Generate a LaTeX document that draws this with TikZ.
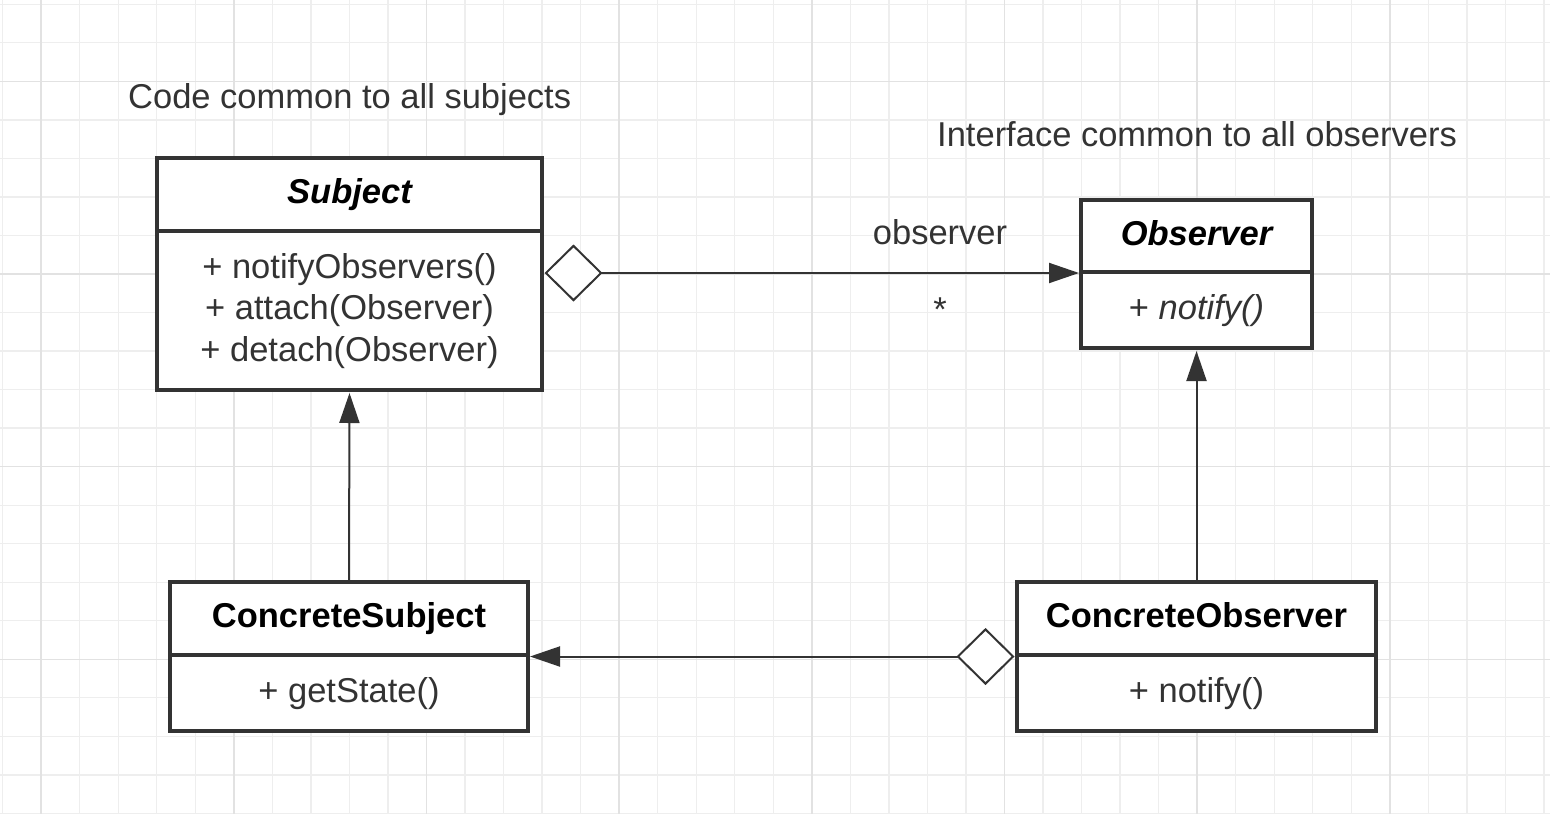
\documentclass[tikz,border=0pt]{standalone}
\usepackage{fontspec}
\setmainfont{Liberation Sans}
\usetikzlibrary{arrows.meta,positioning}
\definecolor{ink}{HTML}{333333}
\definecolor{gridminor}{HTML}{EEEEEE}
\definecolor{gridmajor}{HTML}{E2E2E2}
\tikzset{
  txt/.style={font=\fontsize{34.5}{41.5}\selectfont, text=ink, inner sep=0pt},
  classbox/.style={draw=ink, line width=3.5pt, fill=white, inner sep=0pt, outer sep=0pt,
    text height=25pt, text depth=7pt, align=center},
  classhead/.style={classbox, font=\fontsize{34.5}{41.5}\selectfont\bfseries, text=black},
  classbody/.style={classbox, font=\fontsize{34.5}{41.5}\selectfont, text=ink},
  conn/.style={draw=ink, line width=2pt},
  genarrow/.style={conn, -{Triangle[length=30pt,width=20pt,fill=ink]}},
  aggarrow/.style={conn, {Diamond[open,length=58pt,width=57pt,fill=white,line width=2pt]}-{Triangle[length=30pt,width=20pt,fill=ink]}},
}
\begin{document}
\begin{tikzpicture}[x=1pt,y=-1pt]
\useasboundingbox[fill=white] (0,0) rectangle (1550,814);
% grid
\foreach \i in {0,...,40} {\draw[gridminor, line width=1.3pt] ({2.7+38.53*\i},0) -- ({2.7+38.53*\i},814);}
\foreach \j in {0,...,21} {\draw[gridminor, line width=1.3pt] (0,{4.3+38.53*\j}) -- (1550,{4.3+38.53*\j});}
\foreach \i in {1,6,...,36} {\draw[gridmajor, line width=1.6pt] ({2.7+38.53*\i},0) -- ({2.7+38.53*\i},814);}
\foreach \j in {2,7,12,17} {\draw[gridmajor, line width=1.6pt] (0,{4.3+38.53*\j}) -- (1550,{4.3+38.53*\j});}

% notes
\node[txt, anchor=base west] (note1) at (128,108) {Code common to all subjects};
\node[txt, anchor=base west] (note2) at (937,146) {Interface common to all observers};

% Subject
\node[classhead, minimum width=385pt, minimum height=73pt] (subjH) at (349.5,194.5) {\itshape Subject};
\node[classbody, minimum width=385pt, minimum height=159pt, text height=108pt, text depth=7pt, anchor=north] (subjB) at (subjH.south)
  {+ notifyObservers()\\+ attach(Observer)\\+ detach(Observer)};

% Observer
\node[classhead, minimum width=231pt, minimum height=72pt] (obsH) at (1196.5,236) {\itshape Observer};
\node[classbody, minimum width=231pt, minimum height=76pt, anchor=north] (obsB) at (obsH.south) {+ \textit{notify()}};

% ConcreteSubject
\node[classhead, minimum width=358pt, minimum height=73pt] (csH) at (349,618.5) {ConcreteSubject};
\node[classbody, minimum width=358pt, minimum height=76pt, anchor=north] (csB) at (csH.south) {+ getState()};

% ConcreteObserver
\node[classhead, minimum width=359pt, minimum height=73pt] (coH) at (1196.5,618.5) {ConcreteObserver};
\node[classbody, minimum width=359pt, minimum height=76pt, anchor=north] (coB) at (coH.south) {+ notify()};

% connectors
\coordinate (aggstart) at (subjB.east |- obsH.south);
\draw[aggarrow] ([xshift=2.5pt,yshift=-1pt]aggstart) -- ([xshift=-2pt,yshift=-1pt]obsH.south west);
\draw[aggarrow] ([xshift=-2.5pt,yshift=-1.5pt]coH.south west) -- ([xshift=2pt,yshift=-1.5pt]csH.south east);
\draw[genarrow] ([yshift=1.5pt]coH.north) -- ([yshift=-3pt]obsB.south);
\draw[genarrow] ([yshift=1.5pt]csH.north) -- ([yshift=-3pt]subjB.south);

% labels
\node[txt, anchor=base] (rolelbl) at (940,244) {observer};
\node[txt] (multlbl) at (940,310) {*};
\end{tikzpicture}
\end{document}
